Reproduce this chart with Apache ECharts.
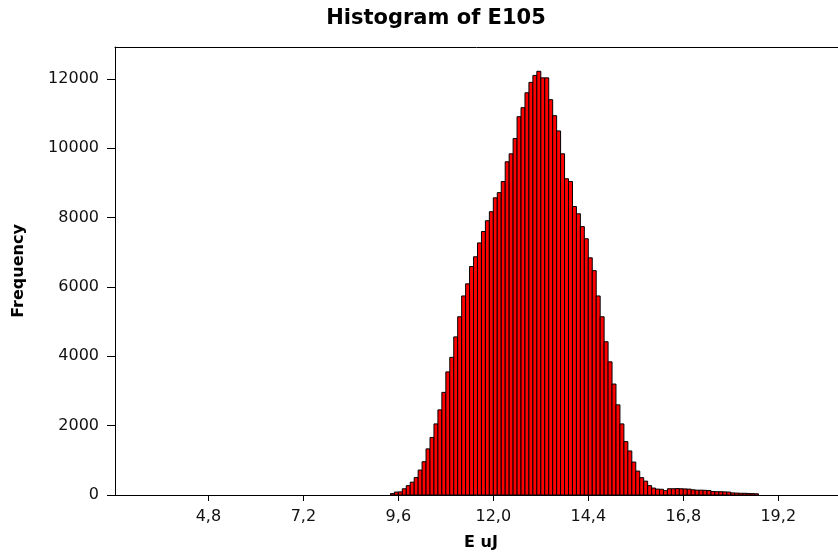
<!DOCTYPE html>
<html>
<head>
<meta charset="utf-8">
<style>
html,body{margin:0;padding:0;background:#fff;}
#chart{width:838px;height:558px;}
</style>
<script src="https://cdn.jsdelivr.net/npm/echarts@6/dist/echarts.min.js"></script>
</head>
<body>
<div id="chart"></div>
<script>
// Histogram bins (left edges, width 0.1) and frequencies
var binLeft = [9.4,9.5,9.6,9.7,9.8,9.9,10.0,10.1,10.2,10.3,10.4,10.5,10.6,10.7,10.8,10.9,
  11.0,11.1,11.2,11.3,11.4,11.5,11.6,11.7,11.8,11.9,12.0,12.1,12.2,12.3,12.4,12.5,12.6,12.7,12.8,12.9,
  13.0,13.1,13.2,13.3,13.4,13.5,13.6,13.7,13.8,13.9,14.0,14.1,14.2,14.3,14.4,14.5,14.6,14.7,14.8,14.9,
  15.0,15.1,15.2,15.3,15.4,15.5,15.6,15.7,15.8,15.9,16.0,16.1,16.2,16.3,16.4,16.5,16.6,16.7,16.8,16.9,
  17.0,17.1,17.2,17.3,17.4,17.5,17.6,17.7,17.8,17.9,18.0,18.1,18.2,18.3,18.4,18.5,18.6];
var binWidth = 0.1;
var frequency = [40,85,90,180,270,370,505,720,960,1330,1660,2050,2455,2960,3550,3970,
  4560,5140,5740,6090,6590,6870,7270,7600,7910,8170,8570,8720,9040,9610,9840,10280,10910,11170,11600,11900,
  12100,12220,12030,12030,11400,10940,10500,9840,9120,9040,8320,8110,7740,7390,6840,6470,5740,5140,4420,3840,
  3200,2600,2050,1540,1270,950,690,500,400,270,200,170,165,125,180,180,185,180,175,170,
  150,140,140,135,130,100,95,95,90,85,60,55,50,50,45,40,35];
var xTicks = [4.8, 7.2, 9.6, 12.0, 14.4, 16.8, 19.2];
var yTicks = [0, 2000, 4000, 6000, 8000, 10000, 12000];

var titleText = 'Histogram of E105';
var xName = 'E uJ';
var yName = 'Frequency';

var data = [];
for (var i = 0; i < binLeft.length; i++) {
  data.push([binLeft[i], +(binLeft[i] + binWidth).toFixed(2), frequency[i]]);
}

var chart = echarts.init(document.getElementById('chart'), null, {renderer: 'canvas'});
var FONT = 'DejaVu Sans';
var X_MIN = 2.44, X_MAX = 20.71;
chart.setOption({
  backgroundColor: '#ffffff',
  animation: false,
  title: {
    text: titleText,
    left: 431, top: 3, textAlign: 'center',
    textStyle: {fontFamily: FONT, fontWeight: 'bold', fontSize: 21, color: '#000'}
  },
  grid: {
    left: 115, top: 47, bottom: 63, right: 0,
    show: false
  },
  xAxis: [{
    type: 'value',
    min: X_MIN, max: X_MAX,
    position: 'bottom',
    name: xName,
    nameLocation: 'middle',
    nameGap: 40,
    nameTextStyle: {fontFamily: FONT, fontWeight: 'bold', fontSize: 16, color: '#000', padding: [0, 0, 0, 9]},
    axisLine: {show: true, onZero: false, lineStyle: {color: '#000', width: 1}},
    axisTick: {show: true, length: 6, lineStyle: {color: '#000'}, customValues: xTicks},
    axisLabel: {
      fontFamily: FONT, fontSize: 16, color: '#111', margin: 14,
      customValues: xTicks,
      formatter: function (v) { return v.toFixed(1).replace('.', ','); }
    },
    splitLine: {show: false}
  }, {
    type: 'value',
    min: X_MIN, max: X_MAX,
    position: 'top',
    axisLine: {show: true, onZero: false, lineStyle: {color: '#000', width: 1}},
    axisTick: {show: false},
    axisLabel: {show: false},
    splitLine: {show: false}
  }],
  yAxis: {
    type: 'value',
    min: 0, max: 12920, interval: 2000,
    name: yName,
    nameLocation: 'middle',
    nameGap: 88,
    nameTextStyle: {fontFamily: FONT, fontWeight: 'bold', fontSize: 16, color: '#000'},
    axisLine: {show: true, onZero: false, lineStyle: {color: '#000', width: 1}},
    axisTick: {show: true, length: 8, lineStyle: {color: '#000'}, customValues: yTicks},
    axisLabel: {fontFamily: FONT, fontSize: 16, color: '#111', margin: 16, customValues: yTicks,
      formatter: function (v) { return String(v); }},
    splitLine: {show: false}
  },
  series: [{
    type: 'custom',
    xAxisIndex: 0,
    data: data,
    encode: {x: [0, 1], y: 2},
    renderItem: function (params, api) {
      var p0 = api.coord([api.value(0), api.value(2)]);
      var p1 = api.coord([api.value(1), 0]);
      return {
        type: 'rect',
        shape: {x: p0[0], y: p0[1], width: p1[0] - p0[0], height: p1[1] - p0[1]},
        style: {fill: '#ff0000', stroke: '#000000', lineWidth: 1}
      };
    }
  }]
});
</script>
</body>
</html>
